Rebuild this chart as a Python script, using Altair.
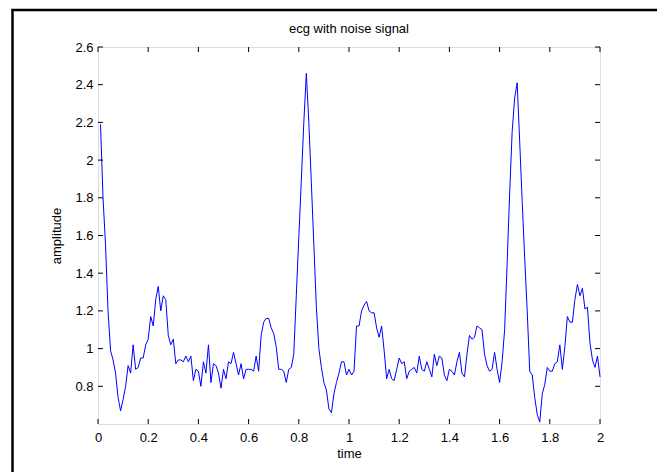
import altair as alt
import pandas as pd

# sampled time axis (s) and measured amplitude
TIME = [i / 100 for i in range(1, 201)]
AMP = [
    2.19, 1.80, 1.55, 1.20, 0.99, 0.94, 0.87, 0.74, 0.67, 0.73,
    0.80, 0.91, 0.87, 1.02, 0.89, 0.90, 0.95, 0.95, 1.02, 1.05,
    1.17, 1.12, 1.26, 1.33, 1.20, 1.28, 1.26, 1.07, 1.02, 1.05,
    0.92, 0.94, 0.94, 0.93, 0.96, 0.93, 0.96, 0.83, 0.89, 0.88,
    0.80, 0.93, 0.87, 1.02, 0.82, 0.92, 0.91, 0.87, 0.79, 0.89,
    0.84, 0.93, 0.92, 0.98, 0.92, 0.86, 0.92, 0.84, 0.89, 0.89,
    0.89, 0.88, 0.96, 0.88, 1.07, 1.14, 1.16, 1.16, 1.11, 1.08,
    1.01, 0.89, 0.89, 0.88, 0.82, 0.89, 0.90, 0.97, 1.28, 1.59,
    1.89, 2.20, 2.46, 2.20, 1.88, 1.55, 1.22, 1.00, 0.90, 0.82,
    0.78, 0.68, 0.66, 0.76, 0.82, 0.87, 0.93, 0.93, 0.86, 0.89,
    0.86, 0.88, 1.12, 1.12, 1.20, 1.23, 1.25, 1.20, 1.19, 1.19,
    1.11, 1.06, 1.12, 0.99, 0.84, 0.89, 0.84, 0.83, 0.89, 0.95,
    0.92, 0.93, 0.84, 0.88, 0.89, 0.90, 0.87, 0.96, 0.89, 0.88,
    0.93, 0.89, 0.85, 0.97, 0.91, 0.96, 0.95, 0.86, 0.83, 0.89,
    0.88, 0.86, 0.93, 0.98, 0.87, 0.85, 0.97, 1.07, 1.05, 1.06,
    1.12, 1.11, 1.10, 0.97, 0.91, 0.88, 0.89, 0.98, 0.89, 0.82,
    0.93, 1.10, 1.45, 1.82, 2.15, 2.33, 2.41, 2.10, 1.78, 1.48,
    1.20, 0.88, 0.86, 0.74, 0.65, 0.61, 0.76, 0.81, 0.90, 0.88,
    0.88, 0.92, 0.93, 1.02, 0.89, 1.01, 1.17, 1.14, 1.14, 1.26,
    1.34, 1.28, 1.32, 1.21, 1.22, 1.03, 0.94, 0.90, 0.96, 0.85,
]
X_TICKS = [0, 0.2, 0.4, 0.6, 0.8, 1, 1.2, 1.4, 1.6, 1.8, 2]
Y_TICKS = [0.8, 1, 1.2, 1.4, 1.6, 1.8, 2, 2.2, 2.4, 2.6]
X_DOMAIN = [0, 2]
Y_DOMAIN = [0.6, 2.6]
TITLE = "ecg with noise signal"

W, H = 502, 377
FONT = "Liberation Sans"

df = pd.DataFrame({"t": TIME, "amp": AMP})
xt = pd.DataFrame({"t": X_TICKS})
yt = pd.DataFrame({"amp": Y_TICKS})

xscale = alt.Scale(domain=X_DOMAIN, nice=False, zero=False)
yscale = alt.Scale(domain=Y_DOMAIN, nice=False, zero=False)

xaxis = alt.Axis(values=X_TICKS, format="~g", title="time",
                 ticks=False, tickSize=0, domain=False, grid=False,
                 labelFlush=False, labelOverlap=False,
                 labelPadding=7, labelFont=FONT, labelFontSize=13,
                 labelColor="black", titleFont=FONT, titleFontSize=13,
                 titleFontWeight="normal", titleColor="black",
                 titleBaseline="top", titleY=23)
yaxis = alt.Axis(values=Y_TICKS, format="~g", title="amplitude",
                 ticks=False, tickSize=0, domain=False, grid=False,
                 labelFlush=False, labelOverlap=False,
                 labelPadding=5, labelFont=FONT, labelFontSize=13,
                 labelColor="black", titleFont=FONT, titleFontSize=13,
                 titleFontWeight="normal", titleColor="black",
                 titleAngle=270, titleX=-42, titleY=H / 2,
                 titleAlign="center", titleBaseline="middle")

line = alt.Chart(df).mark_line(color="#0000ff", strokeWidth=1).encode(
    x=alt.X("t:Q", scale=xscale, axis=xaxis),
    y=alt.Y("amp:Q", scale=yscale, axis=yaxis),
)

tick_len = 5
xb = alt.Chart(xt).mark_rule(color="black", strokeWidth=1).encode(
    x=alt.X("t:Q", scale=xscale, axis=xaxis),
    y=alt.value(H), y2=alt.value(H - tick_len))
xtop = alt.Chart(xt).mark_rule(color="black", strokeWidth=1).encode(
    x=alt.X("t:Q", scale=xscale, axis=xaxis),
    y=alt.value(0), y2=alt.value(tick_len))
yl = alt.Chart(yt).mark_rule(color="black", strokeWidth=1).encode(
    y=alt.Y("amp:Q", scale=yscale, axis=yaxis),
    x=alt.value(0), x2=alt.value(tick_len))
yr = alt.Chart(yt).mark_rule(color="black", strokeWidth=1).encode(
    y=alt.Y("amp:Q", scale=yscale, axis=yaxis),
    x=alt.value(W), x2=alt.value(W - tick_len))

title_mark = alt.Chart(xt.head(1)).mark_text(
    font=FONT, fontSize=13, color="black", baseline="alphabetic", align="center"
).encode(x=alt.value(W / 2), y=alt.value(-14), text=alt.value(TITLE))

# outer figure frame (top and left edges visible)
frame_top = alt.Chart(xt.head(1)).mark_rule(color="black", strokeWidth=2.5).encode(
    x=alt.value(-86.5), x2=alt.value(570), y=alt.value(-37))
frame_left = alt.Chart(xt.head(1)).mark_rule(color="black", strokeWidth=2.5).encode(
    x=alt.value(-85.5), y=alt.value(-38), y2=alt.value(440))

chart = alt.layer(line, xb, xtop, yl, yr, title_mark, frame_top, frame_left).properties(
    width=W, height=H,
    padding={"left": 98, "top": 47, "right": 57, "bottom": 48},
    autosize=alt.AutoSizeParams(type="none"),
).configure_view(stroke="black", strokeWidth=1).configure(background="white")

chart.save("out.html", embed_options={"renderer": "svg", "actions": False})
